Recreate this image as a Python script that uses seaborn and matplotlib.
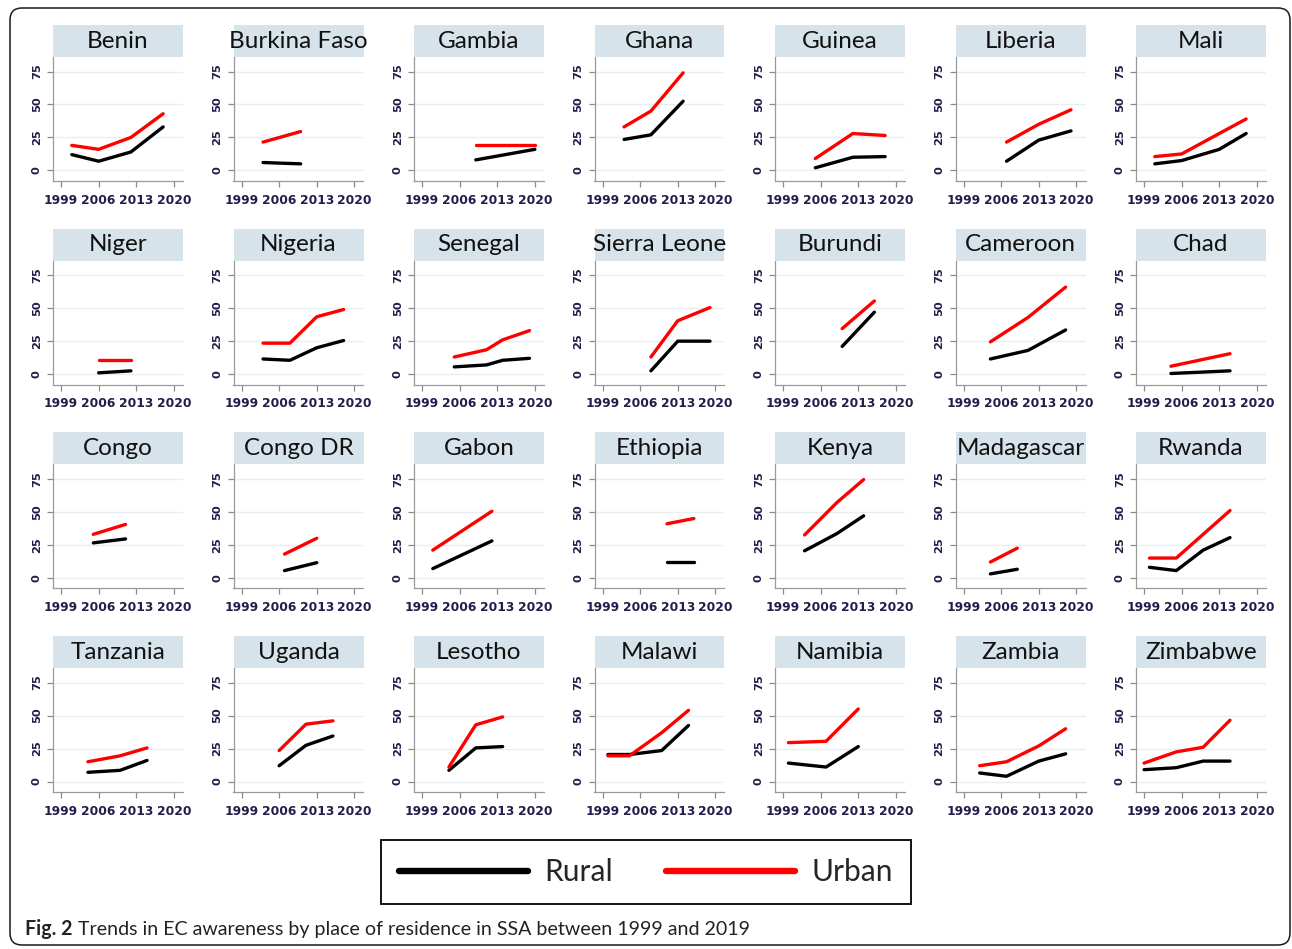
import matplotlib
matplotlib.use("Agg")
import matplotlib.pyplot as plt
import seaborn as sns
import pandas as pd
from matplotlib.patches import Rectangle, FancyBboxPatch
from matplotlib.lines import Line2D

# ---- data: EC awareness (%) by place of residence, per survey ----
countries = [
    "Benin", "Burkina Faso", "Gambia", "Ghana", "Guinea", "Liberia", "Mali",
    "Niger", "Nigeria", "Senegal", "Sierra Leone", "Burundi", "Cameroon", "Chad",
    "Congo", "Congo DR", "Gabon", "Ethiopia", "Kenya", "Madagascar", "Rwanda",
    "Tanzania", "Uganda", "Lesotho", "Malawi", "Namibia", "Zambia", "Zimbabwe",
]
survey_years = [
    [2001, 2006, 2012, 2018], [2003, 2010], [2009, 2020], [2003, 2008, 2014],
    [2005, 2012, 2018], [2007, 2013, 2019], [2001, 2006, 2013, 2018],
    [2006, 2012], [2003, 2008, 2013, 2018], [2005, 2011, 2014, 2019],
    [2008, 2013, 2019], [2010, 2016], [2004, 2011, 2018], [2004, 2015],
    [2005, 2011], [2007, 2013], [2001, 2012], [2011, 2016], [2003, 2009, 2014],
    [2004, 2009], [2000, 2005, 2010, 2015],
    [2004, 2010, 2015], [2006, 2011, 2016], [2004, 2009, 2014],
    [2000, 2004, 2010, 2015], [2000, 2007, 2013], [2002, 2007, 2013, 2018],
    [1999, 2005, 2010, 2015],
]
rural_pct = [
    [12, 7, 14, 33], [6, 5], [8, 16], [23.5, 27, 52.5],
    [2, 10, 10.5], [7, 23, 30], [5, 7.5, 16, 28],
    [1, 2.5], [11.5, 10.5, 20, 25.5], [5.5, 7, 10.5, 12],
    [2.5, 25, 25], [21, 47], [11.5, 18, 33.5], [0.5, 2.5],
    [26.5, 29.5], [5.5, 11.5], [7, 28], [12, 12], [20.5, 33.5, 47],
    [3, 6.5], [8, 5.5, 21, 30.5],
    [7, 8.5, 16], [12, 27.5, 34.5], [8.5, 25.5, 26.5],
    [20.5, 20.5, 23.5, 42.5], [14, 11, 26.5], [6.5, 4, 15.5, 21],
    [9, 10.5, 15.5, 15.5],
]
urban_pct = [
    [19, 16, 25, 43], [21.5, 29.5], [19.5, 19.5], [33, 45, 74],
    [9, 28, 26.5], [21.5, 35, 46], [10.5, 12.5, 28, 39],
    [10.5, 10.5], [23.5, 23.5, 43.5, 49], [13, 18.5, 26, 33],
    [13, 40.5, 50.5], [34.5, 55.5], [24.5, 43, 66], [6, 15.5],
    [33, 40.5], [18, 30], [21, 50.5], [41, 45], [32.5, 57, 74.5],
    [12, 22.5], [15, 15, 33, 51],
    [15, 19.5, 25.5], [23.5, 43.5, 46], [11, 43, 49],
    [19.5, 19.5, 37, 54], [29.5, 30.5, 55], [12, 15, 27, 40],
    [14, 22.5, 26, 46.5],
]
residence_labels = ["Rural", "Urban"]
year_ticks = [1999, 2006, 2013, 2020]
pct_ticks = [0, 25, 50, 75]
caption_bold = "Fig. 2"
caption_text = "Trends in EC awareness by place of residence in SSA between 1999 and 2019"

# ---- long-form table ----
rows = []
for c, yrs, ru, ur in zip(countries, survey_years, rural_pct, urban_pct):
    for y, v in zip(yrs, ru):
        rows.append((c, y, v, "Rural"))
    for y, v in zip(yrs, ur):
        rows.append((c, y, v, "Urban"))
df = pd.DataFrame(rows, columns=["country", "year", "pct", "residence"])

palette = {"Rural": "#000000", "Urban": "#ff0000"}

sns.set_style("white")
plt.rcParams["font.family"] = ["DejaVu Sans"]

W, H = 1292, 949
fig = plt.figure(figsize=(W / 100, H / 100), dpi=100)


def px_rect(left, top, width, height):
    return [left / W, 1 - (top + height) / H, width / W, height / H]


AX_W, AX_H = 130, 124
BOX_H = 32
tick_color = "#241c4a"

for i, c in enumerate(countries):
    r, k = divmod(i, 7)
    left = 53 + 180.5 * k
    top = 57 + 203.7 * r
    ax = fig.add_axes(px_rect(left, top, AX_W, AX_H))
    sub = df[df["country"] == c]
    sns.lineplot(data=sub, x="year", y="pct", hue="residence",
                 hue_order=residence_labels, palette=palette,
                 linewidth=2.4, legend=False, errorbar=None, ax=ax)
    ax.set_xlim(1997.5, 2021.7)
    ax.set_ylim(-8, 86)
    ax.set_xticks(year_ticks)
    ax.set_yticks(pct_ticks)
    ax.set_xticklabels([str(t) for t in year_ticks], fontsize=8.8,
                       fontweight="bold", color=tick_color)
    ax.set_yticklabels([str(t) for t in pct_ticks], fontsize=8.2,
                       fontweight="bold", color=tick_color, rotation=90,
                       va="center")
    ax.set_xlabel("")
    ax.set_ylabel("")
    ax.tick_params(axis="both", direction="out", length=4, width=0.9,
                   color="#8a8a8a", left=True, bottom=True)
    ax.tick_params(axis="y", pad=4)
    ax.tick_params(axis="x", pad=5)
    ax.yaxis.grid(True, color="#e8eff2", linewidth=1.0)
    ax.xaxis.grid(False)
    ax.set_axisbelow(True)
    for s in ("top", "right"):
        ax.spines[s].set_visible(False)
    for s in ("left", "bottom"):
        ax.spines[s].set_color("#9a9a9a")
        ax.spines[s].set_linewidth(0.9)
    # panel header strip
    ax.add_patch(Rectangle((0, 1.0), 1, BOX_H / AX_H, transform=ax.transAxes,
                           facecolor="#d6e3ea", edgecolor="none",
                           clip_on=False, zorder=3))
    ax.text(0.5, 1.0 + (BOX_H / 2) / AX_H, c, transform=ax.transAxes,
            ha="center", va="center", fontsize=17.5, family="Lato",
            color="#111111", zorder=4)

# legend
handles = [Line2D([], [], color=palette[l], linewidth=4.6) for l in residence_labels]
leg = fig.legend(handles, residence_labels, loc="center",
                 bbox_to_anchor=(646 / W, 1 - 872 / H), ncol=2, frameon=True,
                 fancybox=False, edgecolor="black", framealpha=1,
                 prop={"family": "Lato", "size": 21.5}, handlelength=4.3,
                 handletextpad=0.55, columnspacing=1.8, borderpad=0.6)
leg.get_frame().set_linewidth(1.3)

# caption
t1 = fig.text(25 / W, 1 - 929 / H, caption_bold, fontsize=14.1,
              family="Lato", fontweight="bold", va="center", color="#222222")
fig.canvas.draw()
bb = t1.get_window_extent()
fig.text((bb.x1 + 5) / W, 1 - 929 / H, caption_text, fontsize=14.1,
         family="Lato", va="center", color="#222222")

# rounded frame around the figure
fig.add_artist(FancyBboxPatch((0.10, 0.04), 12.80, 9.37,
                              boxstyle="round,pad=0,rounding_size=0.12",
                              transform=fig.dpi_scale_trans, fill=False,
                              edgecolor="#1a1a1a", linewidth=1.1))

fig.savefig("out.png", dpi=100)
